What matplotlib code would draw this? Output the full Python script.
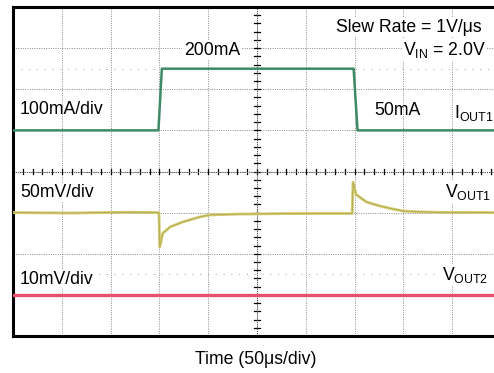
import numpy as np
import matplotlib
matplotlib.use("Agg")
import matplotlib.pyplot as plt

plt.rcParams['font.family'] = ['Liberation Sans', 'DejaVu Sans']
plt.rcParams['mathtext.fontset'] = 'custom'
plt.rcParams['mathtext.rm'] = 'Liberation Sans'

# scope settings: 50us/div, 8 vertical divisions
t_div = 50.0

# I_OUT1 (mA), 100mA/div, 50mA sits on division 5
i_t = [0, 149, 152.5, 349, 353, 500]
i_ma = [50, 50, 200, 200, 50, 50]

# V_OUT1 deviation (mV), 50mV/div, baseline on division 3
v1_t = [0, 60, 120, 149.5, 150.3, 153.5, 161, 174, 191.5, 202, 230, 280, 320, 347.5,
        348.4, 351.5, 362, 376, 389, 399.5, 414, 440, 500]
v1_mv = [0, -0.5, 0.5, 0, -42, -25, -17.4, -11.3, -5.2, -2.8, -1.8, -1.2, -1.0, -1.0,
         37, 22, 13, 8, 4.5, 2, 1, 0.3, 0]

# V_OUT2 deviation (mV), 10mV/div, baseline on division 1
v2_t = [0, 500]
v2_mv = [0, 0]

fig = plt.figure(figsize=(4.94, 3.73), dpi=100)
ax = fig.add_axes([13/494, 37/373, 488/494, 329/373])
ax.set_xlim(0, 500)
ax.set_ylim(0, 8)
ax.set_xticks([])
ax.set_yticks([])
for s in ax.spines.values():
    s.set_linewidth(2.2)
    s.set_color('black')

# graticule
grid_kw = dict(color='#8a8a8a', lw=0.7, ls=(0, (1, 1.4)), zorder=1)
for x in np.arange(50, 500, 50):
    ax.axvline(x, **grid_kw)
for y in range(1, 8):
    ax.axhline(y, **grid_kw)
ax.axhline(6.5, color='#b0b0b0', lw=0.8, ls=(0, (1, 6)), zorder=1)
ax.axhline(1.5, color='#b0b0b0', lw=0.8, ls=(0, (1, 6)), zorder=1)

# center axis tick marks
for x in np.arange(0, 500, 10):
    ax.plot([x, x], [3.93, 4.07], color='black', lw=0.9, zorder=2)
for y in np.arange(0, 8, 0.2):
    ax.plot([247, 253], [y, y], color='black', lw=0.9, zorder=2)
ax.axhline(4, color='#555555', lw=0.8, ls=(0, (1, 1)), zorder=2)
ax.axvline(250, color='#555555', lw=0.8, ls=(0, (1, 1)), zorder=2)

# traces
ax.plot(i_t, 4.5 + np.array(i_ma) / 100.0, color='#3f8a66', lw=1.8, zorder=4)
ax.plot(v1_t, 3 + np.array(v1_mv) / 50.0, color='#d2c96c', lw=2.0, zorder=4)
ax.plot(v1_t, 3 + np.array(v1_mv) / 50.0, color='#a59c4c', lw=0.4, zorder=4)
ax.plot(v2_t, 1 + np.array(v2_mv) / 10.0, color='#e8506a', lw=2.4, zorder=4)

fs = 12.7
bb = dict(facecolor='white', edgecolor='none', pad=1.0)
ax.text(175, 6.84, '200mA', fontsize=fs, bbox=bb, zorder=5)
ax.text(7, 5.40, '100mA/div', fontsize=fs, zorder=5)
ax.text(370, 5.38, '50mA', fontsize=fs, zorder=5)
ax.text(452, 5.30, r'I$_{\mathregular{OUT1}}$', fontsize=fs, bbox=bb, zorder=5)
ax.text(331, 7.40, 'Slew Rate = 1V/\u03bcs', fontsize=fs, bbox=bb, zorder=5)
ax.text(399.5, 6.84, r'V$_{\mathregular{IN}}$ = 2.0V', fontsize=fs, bbox=bb, zorder=5)
ax.text(7, 3.38, '50mV/div', fontsize=fs, bbox=bb, zorder=5)
ax.text(442.5, 3.38, r'V$_{\mathregular{OUT1}}$', fontsize=fs, bbox=bb, zorder=5)
ax.text(7, 1.27, '10mV/div', fontsize=fs, bbox=bb, zorder=5)
ax.text(439.5, 1.36, r'V$_{\mathregular{OUT2}}$', fontsize=fs, bbox=bb, zorder=5)

fig.text(0.518, 0.035, 'Time (50\u03bcs/div)', fontsize=fs, ha='center', va='center')

fig.savefig('out.png', dpi=100)
